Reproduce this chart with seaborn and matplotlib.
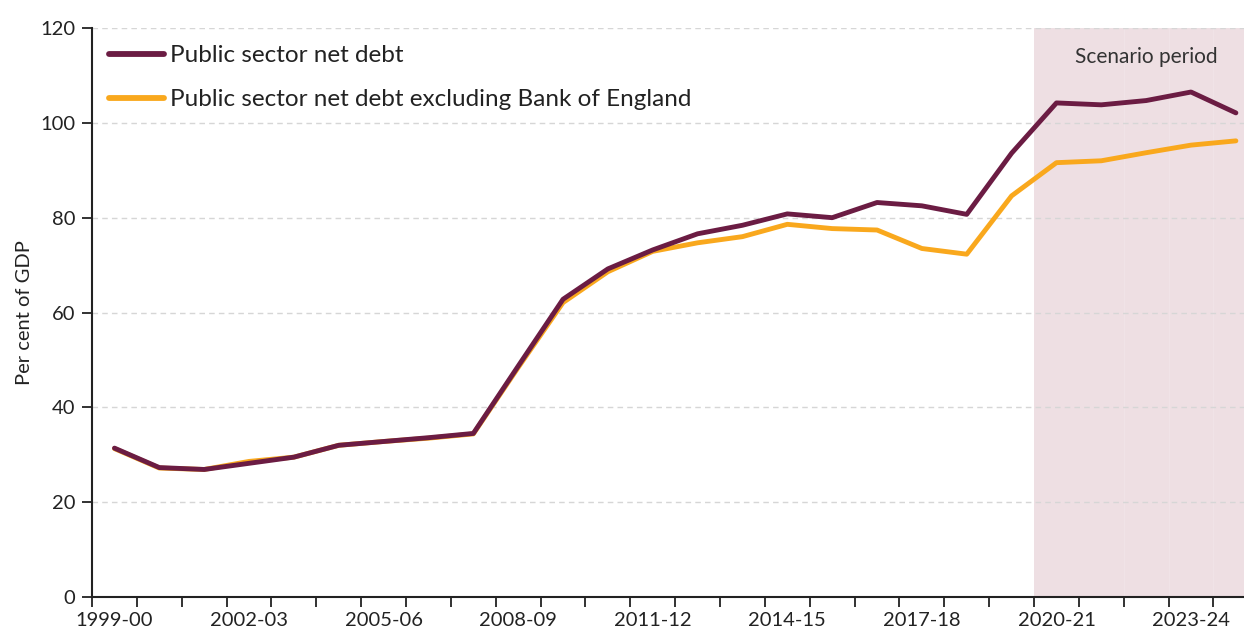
import matplotlib
matplotlib.use("Agg")
import matplotlib.pyplot as plt
from matplotlib.lines import Line2D
import numpy as np
import pandas as pd
import seaborn as sns

# Fiscal years shown on the x axis
years = ["1999-00", "2000-01", "2001-02", "2002-03", "2003-04", "2004-05",
         "2005-06", "2006-07", "2007-08", "2008-09", "2009-10", "2010-11",
         "2011-12", "2012-13", "2013-14", "2014-15", "2015-16", "2016-17",
         "2017-18", "2018-19", "2019-20", "2020-21", "2021-22", "2022-23",
         "2023-24", "2024-25"]

# Public sector net debt, per cent of GDP
psnd = [31.4, 27.3, 26.9, 28.2, 29.5, 32.0, 32.8, 33.6, 34.5, 48.7,
        62.8, 69.2, 73.2, 76.6, 78.4, 80.8, 80.0, 83.2, 82.5, 80.7,
        93.6, 104.2, 103.8, 104.7, 106.5, 102.1]

# Public sector net debt excluding Bank of England, per cent of GDP
psnd_ex_boe = [31.3, 27.2, 26.9, 28.6, 29.5, 32.0, 32.8, 33.5, 34.4, 48.4,
               62.1, 68.6, 72.9, 74.7, 76.0, 78.6, 77.7, 77.4, 73.5, 72.3,
               84.6, 91.6, 92.0, 93.7, 95.3, 96.2]

series_names = ["Public sector net debt",
                "Public sector net debt excluding Bank of England"]
series_colors = ["#6B1C43", "#F9A81D"]

label_every = 3
scenario_start = "2020-21"
scenario_label = "Scenario period"

df = pd.DataFrame({
    "pos": np.tile(np.arange(len(years)), 2),
    "year": years * 2,
    "value": psnd + psnd_ex_boe,
    "series": [series_names[0]] * len(years) + [series_names[1]] * len(years),
})

sns.set_theme(style="white")
plt.rcParams["font.family"] = ["Lato", "DejaVu Sans"]

fig = plt.figure(figsize=(12.44, 6.35), dpi=100)
ax = fig.add_axes([0.074, 0.0598, 0.9375, 0.8961])

n = len(years)
start_idx = years.index(scenario_start)

# Shaded scenario period
ax.axvspan(start_idx - 0.5, n - 0.5, color="#EEDFE3", lw=0, zorder=0)
for b in np.arange(start_idx + 1.5, n - 0.5, 1.0):
    ax.axvline(b, color="white", lw=1.0, alpha=0.15, zorder=0.5)
ax.text(start_idx + 2.0, 113.9, scenario_label, ha="center", va="center",
        fontsize=15, color="#333333")

# Gridlines
for v in range(20, 121, 20):
    ax.axhline(v, color="#D6D6D6", lw=1.0, ls=(0, (4, 3)), zorder=1)

# Lines: the excluding-BoE series sits underneath
lw = 3.5
sns.lineplot(data=df[df["series"] == series_names[1]], x="pos", y="value",
             color=series_colors[1], lw=lw, ax=ax, legend=False, zorder=3)
sns.lineplot(data=df[df["series"] == series_names[0]], x="pos", y="value",
             color=series_colors[0], lw=lw, ax=ax, legend=False, zorder=4)

ax.set_xlim(-0.5, n - 0.5)
ax.set_ylim(0, 120)

# Tick marks at category boundaries, labels at category centres
ax.set_xticks(np.arange(-0.5, n, 1.0))
ax.set_xticklabels([])
ax.set_xticks(np.arange(0, n, label_every), minor=True)
ax.set_xticklabels(years[::label_every], minor=True)
ax.tick_params(axis="x", which="major", direction="out", length=7,
               width=1.3, color="#222222", bottom=True)
ax.tick_params(axis="x", which="minor", length=0, pad=11,
               labelsize=14.5, labelcolor="#222222")
ax.set_yticks(range(0, 121, 20))
ax.tick_params(axis="y", direction="out", length=7, width=1.3,
               color="#222222", left=True, labelsize=14.5,
               labelcolor="#222222", pad=5)

ax.set_xlabel("")
ax.set_ylabel("Per cent of GDP", fontsize=14.5, color="#222222", labelpad=5)

for side in ["top", "right"]:
    ax.spines[side].set_visible(False)
for side in ["left", "bottom"]:
    ax.spines[side].set_color("#222222")
    ax.spines[side].set_linewidth(1.5)
    ax.spines[side].set_zorder(5)

handles = [Line2D([], [], color=c, lw=4.2, solid_capstyle="round")
           for c in series_colors]
leg = ax.legend(handles, series_names, loc="upper left",
                bbox_to_anchor=(0.0, 1.0), frameon=False, fontsize=17.5,
                handlelength=2.25, handletextpad=0.25, labelspacing=0.95,
                borderaxespad=0.3)
for t in leg.get_texts():
    t.set_color("#222222")

fig.savefig("out.png", dpi=100, facecolor="white")
